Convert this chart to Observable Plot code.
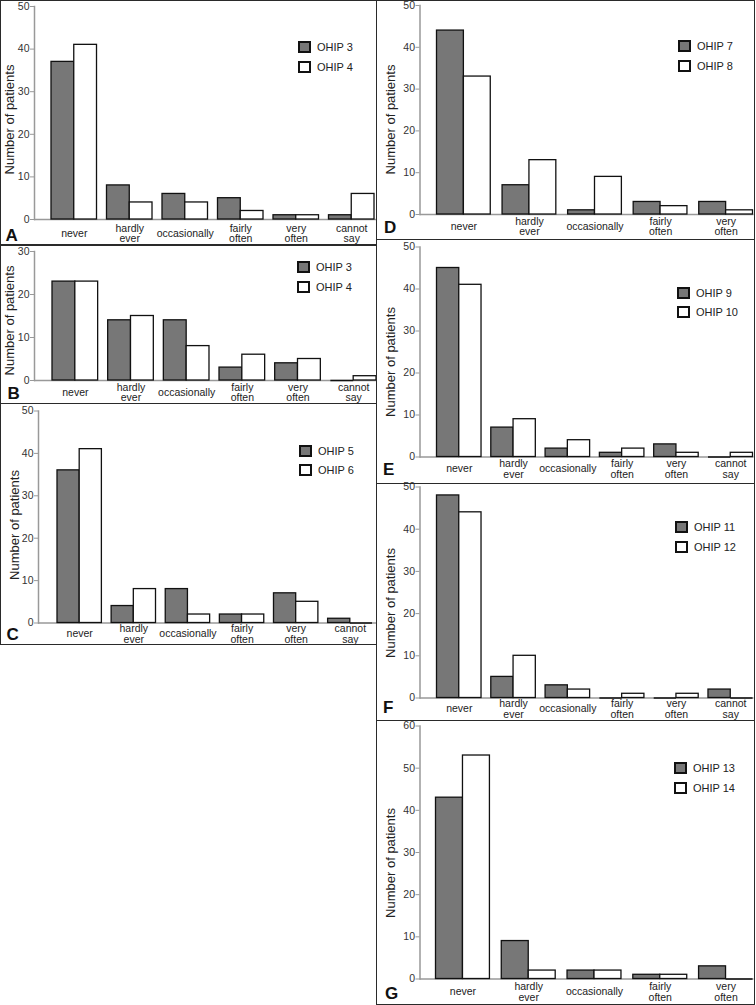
<!DOCTYPE html>
<html><head><meta charset="utf-8">
<script src="https://cdn.jsdelivr.net/npm/d3@7"></script>
<script src="https://cdn.jsdelivr.net/npm/@observablehq/plot@0.6"></script>
<style>
body{margin:0;background:#fff;font-family:"Liberation Sans",Arial,sans-serif;}
#fig{position:relative;width:756px;height:1005px;overflow:hidden;background:#fff;}
.panel{position:absolute;box-sizing:border-box;border:1.5px solid #2a2a2a;pointer-events:none;}
.plot{position:absolute;}
.lrow{position:absolute;white-space:nowrap;display:flex;align-items:center;height:12px;font-size:11px;color:#222;}
.sw{width:13px;height:12px;box-sizing:border-box;border:2px solid #111;margin-right:6px;}
</style></head><body><div id="fig"></div>
<script>
// ---- data ----
const categories = ["never", "hardly ever", "occasionally", "fairly often", "very often", "cannot say"];
const tickLabels = ["never", "hardly\never", "occasionally", "fairly\noften", "very\noften", "cannot\nsay"];
const yLabel = "Number of patients";
const panelLetters = ["A", "B", "C", "D", "E", "F", "G"];

const seriesA = ["OHIP 3", "OHIP 4"];
const valuesA1 = [37, 8, 6, 5, 1, 1];
const valuesA2 = [41, 4, 4, 2, 1, 6];

const seriesB = ["OHIP 3", "OHIP 4"];
const valuesB1 = [23, 14, 14, 3, 4, 0];
const valuesB2 = [23, 15, 8, 6, 5, 1];

const seriesC = ["OHIP 5", "OHIP 6"];
const valuesC1 = [36, 4, 8, 2, 7, 1];
const valuesC2 = [41, 8, 2, 2, 5, 0];

const seriesD = ["OHIP 7", "OHIP 8"];
const valuesD1 = [44, 7, 1, 3, 3];
const valuesD2 = [33, 13, 9, 2, 1];

const seriesE = ["OHIP 9", "OHIP 10"];
const valuesE1 = [45, 7, 2, 1, 3, 0];
const valuesE2 = [41, 9, 4, 2, 1, 1];

const seriesF = ["OHIP 11", "OHIP 12"];
const valuesF1 = [48, 5, 3, 0, 0, 2];
const valuesF2 = [44, 10, 2, 1, 1, 0];

const seriesG = ["OHIP 13", "OHIP 14"];
const valuesG1 = [43, 9, 2, 1, 3];
const valuesG2 = [53, 2, 2, 1, 0];

const yMaxes = [50, 30, 50, 50, 50, 50, 60];
const yTicks = [[0,10,20,30,40,50],[0,10,20,30],[0,10,20,30,40,50],[0,10,20,30,40,50],[0,10,20,30,40,50],[0,10,20,30,40,50],[0,10,20,30,40,50,60]];

// ---- layout (figure pixel coordinates) ----
const layouts = [
  {box:[0,0,377,245.5],        L:34,  R:377, a:51,  b:374, top:6,   base:219, ldy:14, yl:[9,119],   leg:[298,47,67],   let:[5,240]},
  {box:[0,244,377,160],        L:34,  R:377, a:52,  b:376, top:251, base:380, ldy:12, yl:[9,320],   leg:[297,267,287], let:[7,398]},
  {box:[0,402.5,377,242],      L:38,  R:377, a:57,  b:372, top:410, base:622, ldy:11, yl:[14,524],  leg:[299,451,470], let:[6,639]},
  {box:[375.5,0,379,240],      L:419, R:753, a:436, b:752, top:5,   base:214, ldy:12, yl:[390,119], leg:[678,46,66],   let:[383,232]},
  {box:[375.5,238.5,379,245.5],L:419, R:753, a:436, b:752, top:246, base:456, ldy:12, yl:[390,361], leg:[677,293,312], let:[382,474]},
  {box:[375.5,482.5,379,238.5],L:419, R:753, a:436, b:752, top:486, base:697, ldy:11, yl:[390,602], leg:[675,527,547], let:[382,712]},
  {box:[375.5,719.5,379,285],  L:419, R:753, a:435, b:752, top:725, base:978, ldy:13, yl:[390,862], leg:[674,768,788], let:[384,998]}
];

const allSeries = [seriesA, seriesB, seriesC, seriesD, seriesE, seriesF, seriesG];
const allV1 = [valuesA1, valuesB1, valuesC1, valuesD1, valuesE1, valuesF1, valuesG1];
const allV2 = [valuesA2, valuesB2, valuesC2, valuesD2, valuesE2, valuesF2, valuesG2];

const FONT = '"Liberation Sans", Arial, sans-serif';
const GRAY = "#777777";
const fig = document.getElementById("fig");

layouts.forEach((lay, k) => {
  const v1 = allV1[k], v2 = allV2[k], ser = allSeries[k];
  const n = v1.length;
  const cats = categories.slice(0, n);
  const labs = tickLabels.slice(0, n);
  const rows1 = cats.map((c, i) => ({cat: c, value: v1[i]}));
  const rows2 = cats.map((c, i) => ({cat: c, value: v2[i]}));
  const [bx, by, bw0, bh] = lay.box;
  const pi = 0.18;
  const s = (lay.b - lay.a) / (n - pi);
  const po = ((lay.R - lay.L) / s - n + pi) / 2;
  const align = (lay.a - lay.L) / ((lay.R - lay.L) - (lay.b - lay.a));
  const bandW = s * (1 - pi);
  const mid = (lay.top + lay.base) / 2;

  const plot = Plot.plot({
    width: bw0, height: bh,
    marginLeft: lay.L - bx, marginRight: bx + bw0 - lay.R,
    marginTop: lay.top - by, marginBottom: by + bh - lay.base,
    style: {fontFamily: FONT, background: "transparent", overflow: "visible"},
    x: {domain: cats, paddingInner: pi, paddingOuter: Math.max(0, po), align: Math.min(1, Math.max(0, align)), round: false, axis: null},
    y: {domain: [0, yMaxes[k]]},
    marks: [
      Plot.ruleY([0], {stroke: "#999", strokeWidth: 1.5}),
      Plot.frame({anchor: "left", stroke: "#999", strokeWidth: 1.5}),
      Plot.axisY({ticks: yTicks[k], tickSize: 4, tickPadding: 1, fontSize: 10.5, label: null, stroke: "#999", fill: "#333"}),
      Plot.barY(rows1, {x: "cat", y: "value", fill: GRAY, stroke: "#111", strokeWidth: 1.3, insetRight: bandW / 2}),
      Plot.barY(rows2, {x: "cat", y: "value", fill: "#fff", stroke: "#111", strokeWidth: 1.3, insetLeft: bandW / 2}),
      Plot.tickY(rows1.filter(d => d.value === 0), {x: "cat", y: "value", stroke: "#111", strokeWidth: 1.5, insetRight: bandW / 2}),
      Plot.tickY(rows2.filter(d => d.value === 0), {x: "cat", y: "value", stroke: "#111", strokeWidth: 1.5, insetLeft: bandW / 2}),
      Plot.text(cats, {x: d => d, text: (d, i) => labs[i], frameAnchor: "bottom", dy: lay.ldy, lineAnchor: "middle", fontSize: 10.5, fill: "#222"}),
      Plot.text([yLabel], {text: d => d, frameAnchor: "left", textAnchor: "middle", lineAnchor: "middle", rotate: -90, dx: lay.yl[0] - lay.L, dy: lay.yl[1] - mid, fontSize: 13, fill: "#222"}),
      Plot.text([panelLetters[k]], {text: d => d, frameAnchor: "bottom-left", dx: lay.let[0] - lay.L, dy: lay.let[1] - lay.base, lineAnchor: "bottom", textAnchor: "start", fontSize: 17, fontWeight: "bold", fill: "#111"})
    ]
  });
  plot.classList.add("plot");
  plot.style.left = bx + "px";
  plot.style.top = by + "px";
  fig.appendChild(plot);

  // legend
  [0, 1].forEach(j => {
    const row = document.createElement("div");
    row.className = "lrow";
    row.style.left = lay.leg[0] + "px";
    row.style.top = (lay.leg[1 + j] - 6) + "px";
    const sw = document.createElement("div");
    sw.className = "sw";
    sw.style.background = j === 0 ? GRAY : "#fff";
    const t = document.createElement("span");
    t.textContent = ser[j];
    row.appendChild(sw); row.appendChild(t);
    fig.appendChild(row);
  });

  const p = document.createElement("div");
  p.className = "panel";
  p.style.left = bx + "px"; p.style.top = by + "px";
  p.style.width = bw0 + "px"; p.style.height = bh + "px";
  fig.appendChild(p);
});
</script></body></html>
